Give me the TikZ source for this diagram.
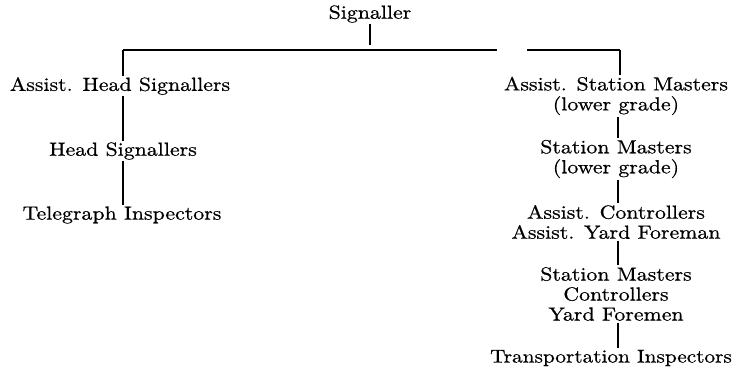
\documentclass[tikz,border=0pt]{standalone}
\usepackage{fontspec}
\setmainfont{lmroman10-regular.otf}[FakeStretch=1.15,FakeBold=0.6]
\begin{document}
\begin{tikzpicture}[x=1pt,y=-1pt,
  lbl/.style={font=\fontsize{19}{20}\selectfont, inner sep=1.5pt, align=center},
  link/.style={line width=1.1pt}]
\useasboundingbox (0,0) rectangle (733,379);
% nodes
\node[lbl] (sig) at (370,14) {Signaller};
\node[lbl] (ahs) at (120,86) {Assist. Head Signallers};
\node[lbl] (hs)  at (123,151) {Head Signallers};
\node[lbl] (ti)  at (122,215) {Telegraph Inspectors};
\node[lbl] (asm) at (616,96) {Assist. Station Masters\\(lower grade)};
\node[lbl] (sm)  at (616,159) {Station Masters\\(lower grade)};
\node[lbl] (ac)  at (616,222) {Assist. Controllers\\Assist. Yard Foreman};
\node[lbl, font=\fontsize{18.5}{20}\selectfont] (tri) at (611,358) {Transportation Inspectors};
\node[lbl] (smc) at (616,294) {Station Masters\\Controllers\\Yard Foremen};
% coordinates
\coordinate (tickend) at (370,45);
\coordinate (barL) at (123,50);
\coordinate (gapL) at (497,50);
\coordinate (gapR) at (527,50);
\coordinate (barR) at (620,50);
\coordinate (colL) at (123,0);
\coordinate (colR) at (618,0);
% connectors
\draw[link] (sig.south) -- (tickend);
\draw[link] (barL) -- (gapL);
\draw[link] (gapR) -- (barR);
\draw[link] (barL) -- (barL |- ahs.north);
\draw[link] (barR) -- (barR |- asm.north);
\draw[link] (colL |- ahs.south) -- (colL |- hs.north);
\draw[link] (colL |- hs.south) -- (colL |- ti.north);
\draw[link] (colR |- asm.south) -- (colR |- sm.north);
\draw[link] (colR |- sm.south) -- (colR |- ac.north);
\draw[link] (colR |- ac.south) -- (colR |- smc.north);
\draw[link] (colR |- smc.south) -- (colR |- tri.north);
\end{tikzpicture}
\end{document}
